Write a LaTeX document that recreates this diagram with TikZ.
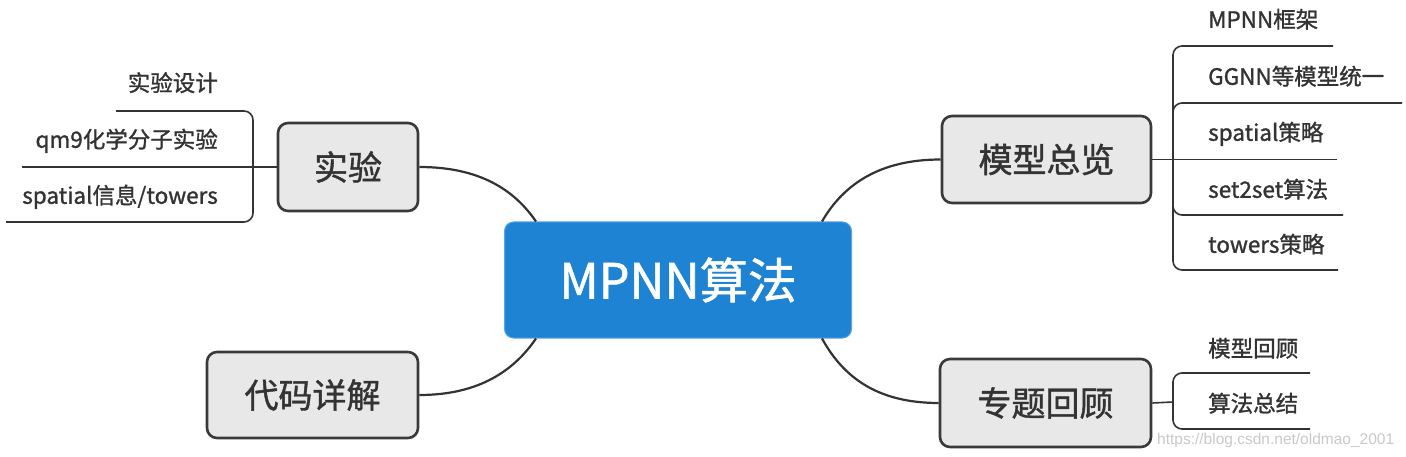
\documentclass[tikz,border=0pt]{standalone}
\usepackage{fontspec}
\setmainfont{Noto Sans CJK SC}
\newfontfamily\medfont{Noto Sans CJK SC}[FakeBold=1.2]
\newfontfamily\wmfont{Liberation Sans}
\usetikzlibrary{calc}
\definecolor{boxfill}{HTML}{E8E8E8}
\definecolor{boxline}{HTML}{3A3A3A}
\definecolor{ink}{HTML}{333333}
\definecolor{mainblue}{HTML}{1E83D3}
\definecolor{mainedge}{HTML}{5AA6E6}
\definecolor{wmgrey}{HTML}{C8C8C8}
\begin{document}
\begin{tikzpicture}[x=1pt,y=-1pt,
  central/.style={draw=mainedge, line width=1pt, fill=mainblue, rounded corners=9pt,
    text=white, font=\medfont\fontsize{48.5}{48.5}\selectfont, inner sep=0pt,
    minimum width=347pt, minimum height=116pt},
  topic/.style={draw=boxline, line width=2.6pt, fill=boxfill, rounded corners=10pt,
    text=ink, font=\medfont\fontsize{34}{34}\selectfont, inner sep=0pt},
  sub/.style={text=ink, font=\medfont\fontsize{22.5}{22.5}\selectfont, inner sep=0pt,
    text height=0.88em, text depth=0.12em},
  mainconn/.style={draw=ink, line width=2.2pt},
  subconn/.style={draw=ink, line width=1.6pt, rounded corners=9pt},
]
\useasboundingbox (0,0) rectangle (1406,457);

% central and topics
\node[central] (c) at (678,280) {MPNN算法};
\node[topic, minimum width=140pt, minimum height=88pt] (exp) at (348,167) {实验};
\node[topic, minimum width=209pt, minimum height=87pt] (mod) at (1046.5,159.5) {模型总览};
\node[topic, minimum width=211pt, minimum height=88pt] (rev) at (1045.5,403) {专题回顾};
\node[topic, minimum width=211pt, minimum height=86pt] (code) at (312.5,395) {代码详解};

% main connectors
\draw[mainconn] ($(c.north west)+(32,0)$) .. controls +(-22,-32) and +(60,0) .. (exp.east);
\draw[mainconn] ($(c.north east)+(-30,0)$) .. controls +(22,-38) and +(-60,0) .. (mod.west);
\draw[mainconn] ($(c.south west)+(32,0)$) .. controls +(-22,32) and +(60,0) .. (code.east);
\draw[mainconn] ($(c.south east)+(-30,0)$) .. controls +(22,40) and +(-60,0) .. (rev.west);

% 实验 children
\node[sub, anchor=east] (e1) at (218,87.5) {实验设计};
\node[sub, anchor=east] (e2) at (218,144) {qm9化学分子实验};
\node[sub, anchor=east] (e3) at (218,200) {spatial信息/towers};
\coordinate (eb) at (253,167);
\coordinate (e1end) at (116,111);
\coordinate (e2end) at (22,167);
\coordinate (e3end) at (6,222);
\draw[subconn] (eb) |- (e1end);
\draw[subconn] (exp.west) -- (e2end);
\draw[subconn] (eb) |- (e3end);

% 模型总览 children
\node[sub, anchor=west] (m1) at (1208,24) {MPNN框架};
\node[sub, anchor=west] (m2) at (1208,81) {GGNN等模型统一};
\node[sub, anchor=west] (m3) at (1208,137) {spatial策略};
\node[sub, anchor=west] (m4) at (1208,194) {set2set算法};
\node[sub, anchor=west] (m5) at (1208,249) {towers策略};
\coordinate (mb) at (1173,159.5);
\coordinate (m1end) at (1333,46);
\coordinate (m2end) at (1402,103);
\coordinate (m3end) at (1337,159.5);
\coordinate (m4end) at (1343,215);
\coordinate (m5end) at (1338,270);
\draw[subconn] (mb) |- (m1end);
\draw[subconn] (mb) |- (m2end);
\draw[subconn] (mod.east) -- (m3end);
\draw[subconn] (mb) |- (m4end);
\draw[subconn] (mb) |- (m5end);

% 专题回顾 children
\node[sub, anchor=west] (r1) at (1208,353) {模型回顾};
\node[sub, anchor=west] (r2) at (1208,408) {算法总结};
\coordinate (rb) at (1173,402);
\coordinate (r1end) at (1310,373);
\coordinate (r2end) at (1310,429);
\draw[subconn] (rev.east) -- (rb);
\draw[subconn] (rb) |- (r1end);
\draw[subconn] (rb) |- (r2end);

% watermark
\node[anchor=base west, inner sep=0pt, text=wmgrey, font=\wmfont\fontsize{15.5}{15.5}\selectfont] (wm) at (1157,444) {https://blog.csdn.net/oldmao\_2001};
\end{tikzpicture}
\end{document}
